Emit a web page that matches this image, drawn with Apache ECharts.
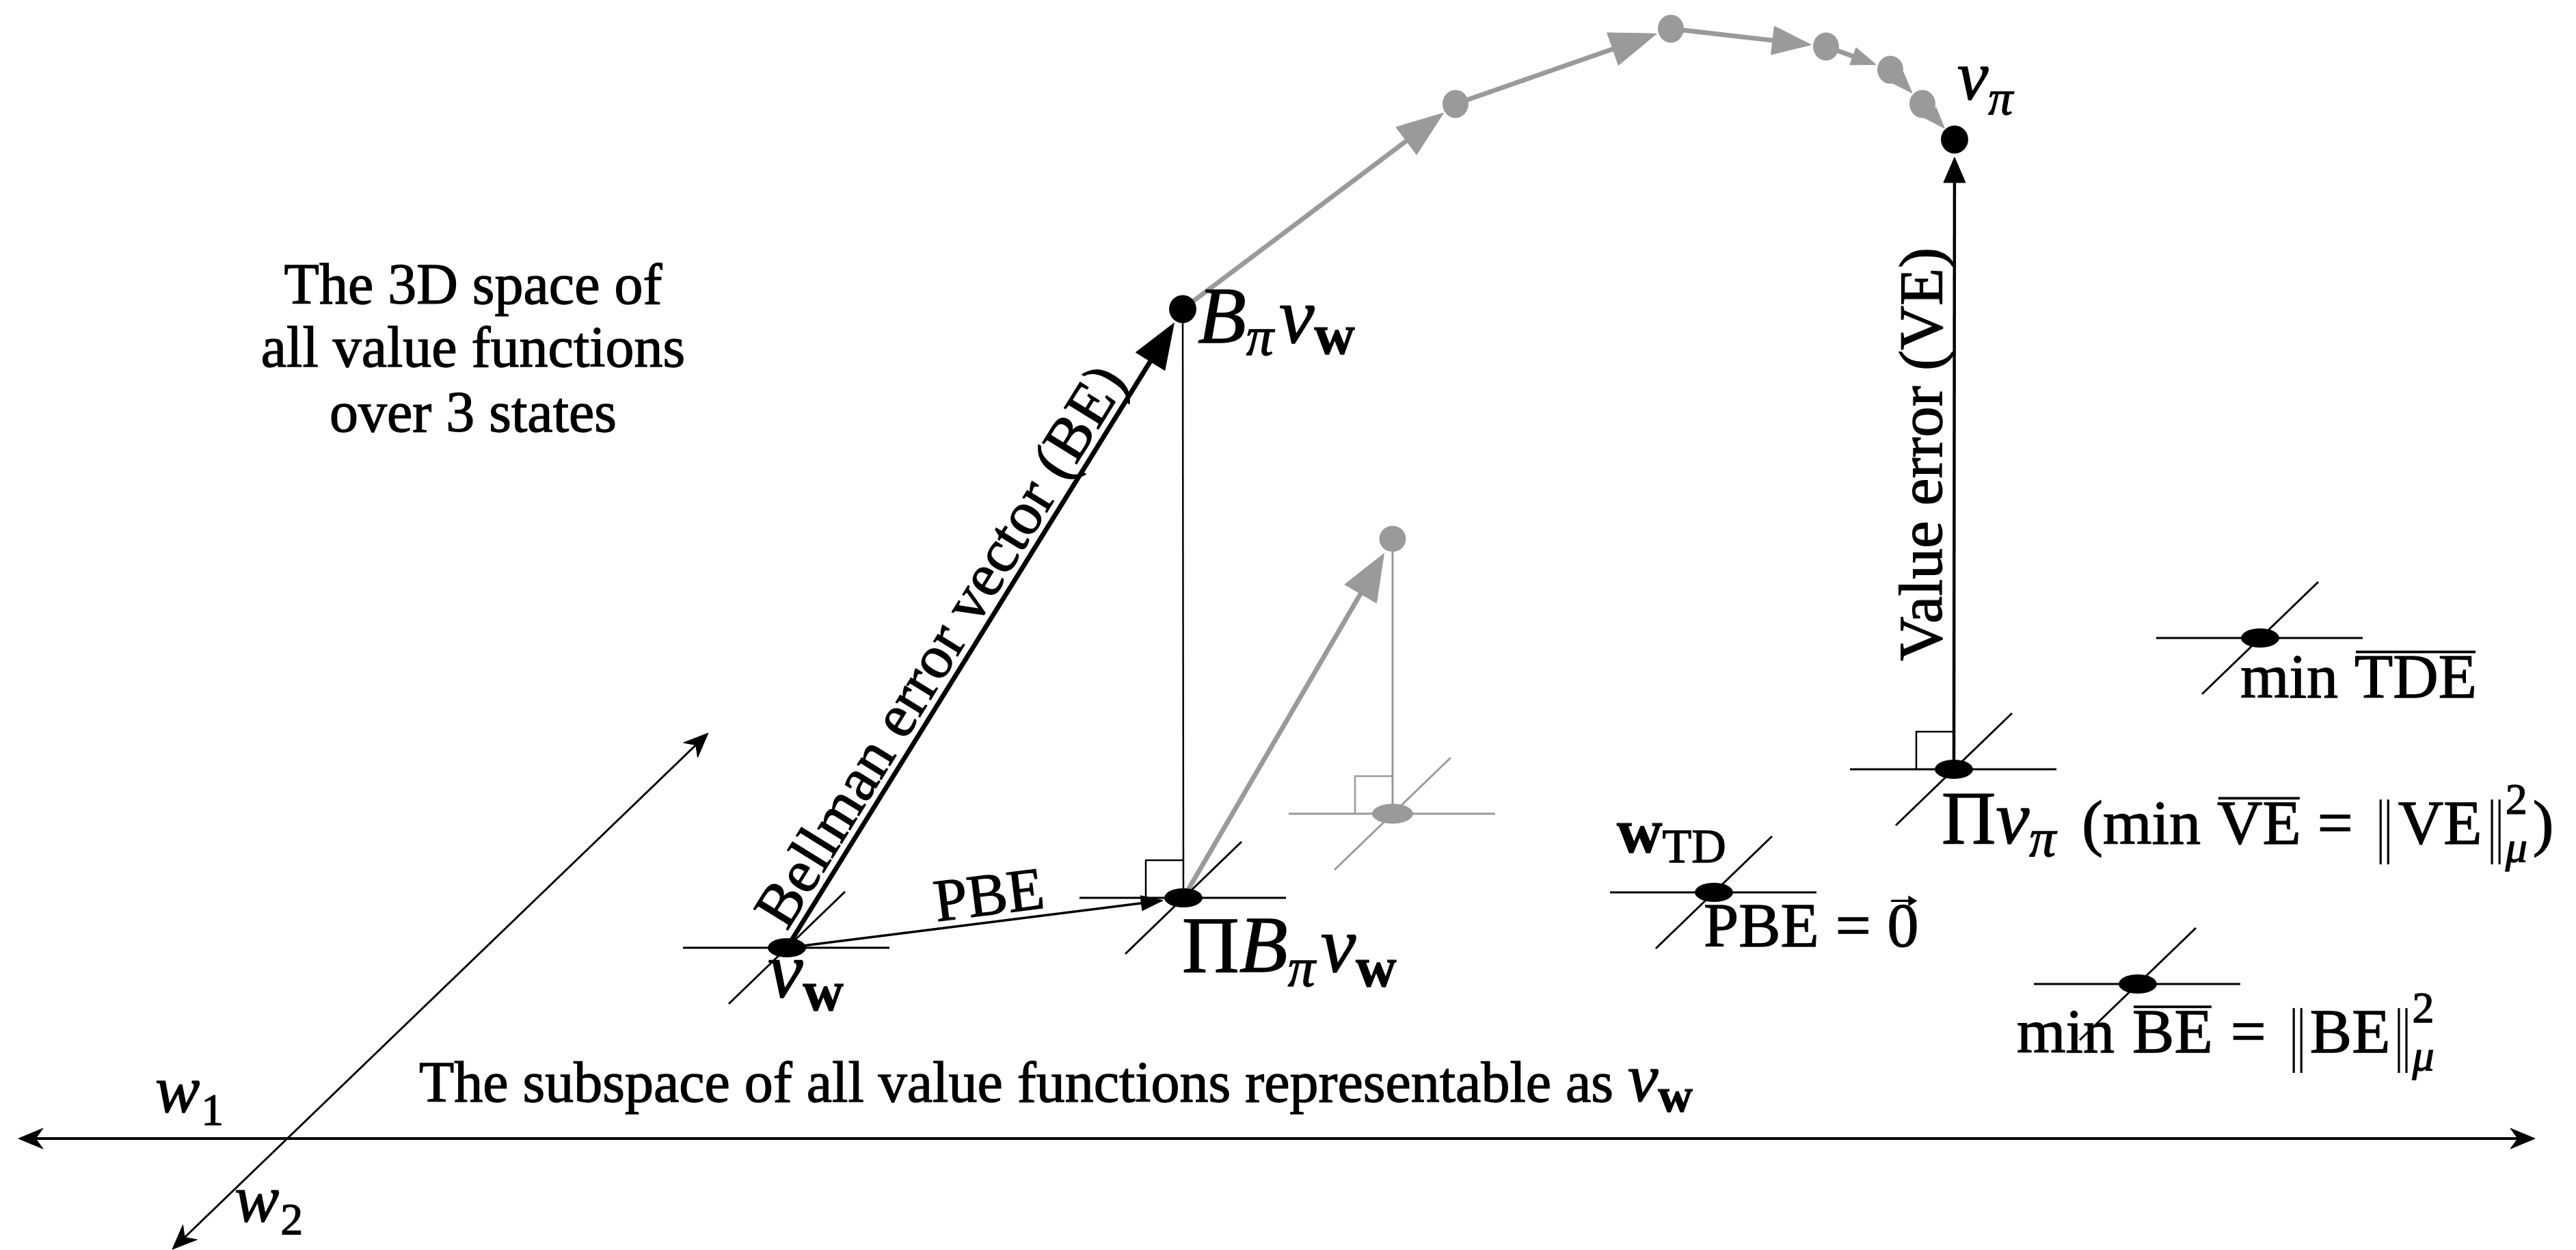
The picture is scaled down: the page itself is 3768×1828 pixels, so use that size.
<!DOCTYPE html>
<html><head><meta charset="utf-8">
<script src="https://cdn.jsdelivr.net/npm/echarts@6/dist/echarts.min.js"></script>
<style>html,body{margin:0;padding:0;background:#fff}#c{width:3768px;height:1828px}</style>
</head><body><div id="c"></div>
<script>
// ================= DATA (diagram units: x to the right, y downward) =================
const diagramWidth = 3768, diagramHeight = 1828;

// the two weight axes of the representable subspace (double-headed arrows) [x1,y1,x2,y2]
const subspaceAxes = [[27, 1665, 3708, 1665], [252, 1827, 1036, 1072]];

// points lying in the subspace (ellipse + cross)  [name, x, y]
const planePoints = [
  ['vw', 1151, 1386], ['PiBvw', 1731, 1313], ['PiVpi', 2858, 1125],
  ['wTD', 2507, 1305], ['minTDE', 3306, 933], ['minBE', 3127, 1439]
];
const ghostPlanePoints = [['ghostProj', 2037, 1190]];
// points outside the subspace (round dots)
const spacePoints = [['Bvw', 1730, 452], ['vpi', 2859, 204]];
// repeated application of the Bellman operator: B v_w -> ... -> v_pi
const bellmanPath = [[1730, 452], [2129, 152], [2444, 42], [2671, 68], [2765, 102], [2812, 152], [2859, 204]];
const ghostSpacePoints = [['ghostB', 2037, 788]];

// arrows between named points [from, to, caption key]
const blackArrows = [['vw', 'Bvw', 'BE'], ['vw', 'PiBvw', 'PBE'], ['PiVpi', 'vpi', 'VE']];
const ghostArrows = [['PiBvw', 'ghostB']];
// projection lines [from, to]
const blackProjections = [['Bvw', 'PiBvw']];
const ghostProjections = [['ghostB', 'ghostProj']];
// right-angle markers at
const rightAngles = ['PiBvw', 'PiVpi'];
const ghostRightAngles = ['ghostProj'];

// texts
const spaceCaption = ['The 3D space of', 'all value functions', 'over 3 states'];
const spaceCaptionAnchor = [[692, 450], [692, 542], [692, 637]];
const subspaceCaption = 'The subspace of all value functions representable as ';
const subspaceCaptionAnchor = [613, 1617];
const axisNames = [['w', '1'], ['w', '2']];
const axisNameAnchors = [[227, 1633], [343, 1793]];
const arrowCaptions = { BE: 'Bellman error vector (BE)', PBE: 'PBE', VE: 'Value error (VE)' };

// ================= STYLE =================
const GRAY = '#9a9a9a', BLACK = '#000';
const FAM = '"Liberation Serif","DejaVu Serif",serif';
const MID = 0.3375;

// label typesetting: [point, dx, dy, runs]; run = [text, style, size, baselineShift, gap, flags]
const pointLabelLayout = [
  ['Bvw', 22, 58, [['B', 'mi', 116], ['π', 'mi', 80, 15], ['v', 'mi', 116, 0, 8], ['w', 'bf', 82, 13]]],
  ['PiBvw', -2, 117, [['Π', 'rm', 116], ['B', 'mi', 116], ['π', 'mi', 80, 18], ['v', 'mi', 116, 0, 8], ['w', 'bf', 82, 18]]],
  ['vw', -28, 81, [['v', 'mi', 116], ['w', 'bf', 82, 16]]],
  ['vpi', 4, -51, [['v', 'mi', 102], ['π', 'mi', 72, 19]]],
  ['PiVpi', -18, 116, [['Π', 'rm', 110], ['v', 'mi', 110], ['π', 'mi', 78, 17], ['(', 'rm', 92, 0, 38], ['min', 'rm', 92],
    ['VE', 'rm', 92, 0, 24, 'over'], ['=', 'rm', 92, 0, 24], ['', 'bar', 92, 0, 36], ['VE', 'rm', 92, 0, 10], ['', 'bar', 92, 0, 10],
    ['2', 'rm', 64, -46, 4], ['μ', 'mi', 64, 24, 0, 'stack'], [')', 'rm', 92, 0, 8]]],
  ['wTD', -142, -52, [['w', 'bf', 92], ['TD', 'rm', 70, 13]]],
  ['wTD', -15, 86, [['PBE', 'rm', 92], ['=', 'rm', 92, 0, 24], ['0', 'rm', 92, 0, 24, 'vec']]],
  ['minTDE', -29, 94, [['min', 'rm', 92], ['TDE', 'rm', 92, 0, 24, 'over']]],
  ['minBE', -177, 107, [['min', 'rm', 92], ['BE', 'rm', 92, 0, 26, 'over'], ['=', 'rm', 92, 0, 26], ['', 'bar', 92, 0, 36],
    ['BE', 'rm', 92, 0, 8], ['', 'bar', 92, 0, 8], ['2', 'rm', 64, -46, 4], ['μ', 'mi', 64, 24, 0, 'stack']]]
];
const arrowStyle = {
  BE: { lw: 7, color: BLACK, kind: 'latex', hl: 66, hw: 50, s1: 24, caption: { t: 0.449, off: 36, size: 90 } },
  PBE: { lw: 3.5, color: BLACK, kind: 'latex', hl: 32, hw: 22, s1: 30, caption: { t: 0.518, off: 34, size: 88 } },
  VE: { lw: 4.5, color: BLACK, kind: 'latex', hl: 37, hw: 32, s1: 26, caption: { t: 0.5, off: 42, size: 90 } }
};
const TEXT_STROKE = 1.3;

const measureCtx = document.createElement('canvas').getContext('2d');
function fontOf(st, size) {
  const pre = st === 'mi' ? 'italic ' : st === 'bf' ? 'bold ' : '';
  return pre + size + 'px ' + FAM;
}
function textWidth(t, font) { measureCtx.font = font; return measureCtx.measureText(t).width; }

function textStyle(t, font, color, align) {
  return { text: t, font: font, fill: color, stroke: color, lineWidth: TEXT_STROKE,
    align: align, verticalAlign: 'middle', textAlign: align, textVerticalAlign: 'middle' };
}
function textEl(t, x, baseline, size, st, color, align) {
  return { type: 'text', x: x, y: baseline - MID * size, style: textStyle(t, fontOf(st, size), color, align || 'left') };
}

function typeset(x, y, runs, color) {
  const els = [];
  let cx = x, lastStart = x;
  runs.forEach(r => {
    const t = r[0], st = r[1], fs = r[2], dy = r[3] || 0, gap = r[4] || 0, flags = r[5] || '';
    const stack = flags.indexOf('stack') >= 0;
    const sx = stack ? lastStart : cx + gap;
    const by = y + dy;
    let w;
    if (st === 'bar') {
      w = 0.22 * fs;
      [0.05, 0.17].forEach(f => els.push({ type: 'line',
        shape: { x1: sx + f * fs, y1: by - 0.78 * fs, x2: sx + f * fs, y2: by + 0.25 * fs }, style: { stroke: color, lineWidth: 3.2 } }));
    } else {
      const font = fontOf(st, fs);
      w = textWidth(t, font);
      els.push(textEl(t, sx, by, fs, st, color));
    }
    if (flags.indexOf('over') >= 0) {
      const oy = by - 0.8 * fs;
      els.push({ type: 'line', shape: { x1: sx + 0.02 * fs, y1: oy, x2: sx + w - 0.02 * fs, y2: oy }, style: { stroke: color, lineWidth: 3.8 } });
    }
    if (flags.indexOf('vec') >= 0) {
      const vy = by - 0.8 * fs, x1 = sx + 0.12 * w, x2 = sx + w * 0.95;
      els.push({ type: 'line', shape: { x1: x1, y1: vy, x2: x2 - 6, y2: vy }, style: { stroke: color, lineWidth: 3.2 } });
      els.push({ type: 'polygon', shape: { points: [[x2, vy], [x2 - 13, vy - 8], [x2 - 13, vy + 8]] }, style: { fill: color } });
    }
    if (stack) cx = Math.max(cx, sx + w); else { lastStart = sx; cx = sx + w; }
  });
  return els;
}

function arrowKids(p0, p1, st) {
  const dx = p1[0] - p0[0], dy = p1[1] - p0[1], L = Math.hypot(dx, dy);
  const ux = dx / L, uy = dy / L;
  const s0 = st.s0 || 0, s1 = st.s1 || 0;
  const a = [p0[0] + ux * s0, p0[1] + uy * s0], b = [p1[0] - ux * s1, p1[1] - uy * s1];
  const kids = [];
  function head(tip, ex, ey) {
    const hl = st.hl, hw = st.hw / 2, px = -ey, py = ex;
    const bx = tip[0] - ex * hl, by = tip[1] - ey * hl;
    const c1 = [bx + px * hw, by + py * hw], c2 = [bx - px * hw, by - py * hw];
    const pts = st.kind === 'stealth'
      ? [tip, c1, [tip[0] - ex * hl * 0.7, tip[1] - ey * hl * 0.7], c2]
      : [tip, c1, c2];
    kids.push({ type: 'polygon', shape: { points: pts }, style: { fill: st.color, stroke: st.color, lineWidth: 1 } });
    return [tip[0] - ex * hl * 0.6, tip[1] - ey * hl * 0.6];
  }
  let la = a, lb = b;
  if (st.endHead !== false) lb = head(b, ux, uy);
  if (st.startHead) la = head(a, -ux, -uy);
  kids.unshift({ type: 'line', shape: { x1: la[0], y1: la[1], x2: lb[0], y2: lb[1] }, style: { stroke: st.color, lineWidth: st.lw } });
  return kids;
}

const allPoints = {};
[planePoints, ghostPlanePoints, spacePoints, ghostSpacePoints].forEach(arr => arr.forEach(p => { allPoints[p[0]] = [p[1], p[2]]; }));

function cross(c, color) {
  return [
    { type: 'line', shape: { x1: c[0] - 152, y1: c[1], x2: c[0] + 150, y2: c[1] }, style: { stroke: color, lineWidth: 3 } },
    { type: 'line', shape: { x1: c[0] - 85, y1: c[1] + 82, x2: c[0] + 85, y2: c[1] - 82 }, style: { stroke: color, lineWidth: 3 } }
  ];
}
function ellipse(c, rx, ry, color) {
  return { type: 'circle', x: c[0], y: c[1], scaleX: 1, scaleY: ry / rx, shape: { cx: 0, cy: 0, r: rx }, style: { fill: color } };
}

function customSeries(data, enc, render, z) {
  return { type: 'custom', coordinateSystem: 'cartesian2d', data: data, encode: enc, renderItem: render,
    z: z, silent: true, clip: false, animation: false };
}
const segEnc = { x: [0, 2], y: [1, 3] }, ptEnc = { x: 0, y: 1 };
function pairData(list) { return list.map(p => allPoints[p[0]].concat(allPoints[p[1]])); }

const series = [];
// subspace axes
series.push(customSeries(subspaceAxes, segEnc, (params, api) => {
  const i = params.dataIndex;
  const p0 = api.coord([api.value(0), api.value(1)]), p1 = api.coord([api.value(2), api.value(3)]);
  return { type: 'group', children: arrowKids(p0, p1, { lw: i === 0 ? 4 : 3, color: BLACK, kind: 'stealth', hl: 36, hw: 30, startHead: true }) };
}, 1));
// crosses at plane points
series.push(customSeries(planePoints.map(p => [p[1], p[2]]), ptEnc, (params, api) => {
  return { type: 'group', children: cross(api.coord([api.value(0), api.value(1)]), BLACK) };
}, 2));
series.push(customSeries(ghostPlanePoints.map(p => [p[1], p[2]]), ptEnc, (params, api) => {
  return { type: 'group', children: cross(api.coord([api.value(0), api.value(1)]), GRAY) };
}, 2));
// projection lines
series.push(customSeries(pairData(blackProjections), segEnc, (params, api) => {
  const p0 = api.coord([api.value(0), api.value(1)]), p1 = api.coord([api.value(2), api.value(3)]);
  return { type: 'line', shape: { x1: p0[0], y1: p0[1], x2: p1[0], y2: p1[1] }, style: { stroke: BLACK, lineWidth: 2.5 } };
}, 2));
series.push(customSeries(pairData(ghostProjections), segEnc, (params, api) => {
  const p0 = api.coord([api.value(0), api.value(1)]), p1 = api.coord([api.value(2), api.value(3)]);
  return { type: 'line', shape: { x1: p0[0], y1: p0[1], x2: p1[0], y2: p1[1] }, style: { stroke: GRAY, lineWidth: 3 } };
}, 2));
// right angle markers
function rightAngleRender(color) {
  return (params, api) => {
    const c = api.coord([api.value(0), api.value(1)]), s = 55;
    return { type: 'polyline', shape: { points: [[c[0] - s, c[1]], [c[0] - s, c[1] - s], [c[0], c[1] - s]] }, style: { stroke: color, lineWidth: 2.5, fill: null } };
  };
}
series.push(customSeries(rightAngles.map(n => allPoints[n]), ptEnc, rightAngleRender(BLACK), 2));
series.push(customSeries(ghostRightAngles.map(n => allPoints[n]), ptEnc, rightAngleRender(GRAY), 2));
// Bellman iteration path (gray)
const pathSegs = bellmanPath.slice(1).map((p, i) => bellmanPath[i].concat(p));
series.push(customSeries(pathSegs, segEnc, (params, api) => {
  const p0 = api.coord([api.value(0), api.value(1)]), p1 = api.coord([api.value(2), api.value(3)]);
  const L = Math.hypot(p1[0] - p0[0], p1[1] - p0[1]);
  const hl = Math.min(68, 20 + 0.16 * L);
  return { type: 'group', children: arrowKids(p0, p1, { lw: 7, color: GRAY, kind: 'latex', hl: hl, hw: hl * 0.74, s1: 22 }) };
}, 3));
// ghost arrow
series.push(customSeries(pairData(ghostArrows), segEnc, (params, api) => {
  const p0 = api.coord([api.value(0), api.value(1)]), p1 = api.coord([api.value(2), api.value(3)]);
  return { type: 'group', children: arrowKids(p0, p1, { lw: 7, color: GRAY, kind: 'latex', hl: 68, hw: 54, s1: 25 }) };
}, 3));
// black arrows with captions
series.push(customSeries(pairData(blackArrows), segEnc, (params, api) => {
  const key = blackArrows[params.dataIndex][2], st = arrowStyle[key];
  const p0 = api.coord([api.value(0), api.value(1)]), p1 = api.coord([api.value(2), api.value(3)]);
  const kids = arrowKids(p0, p1, st);
  const dx = p1[0] - p0[0], dy = p1[1] - p0[1], L = Math.hypot(dx, dy), ux = dx / L, uy = dy / L;
  const cp = st.caption;
  const cx = p0[0] + ux * L * cp.t + uy * cp.off, cy = p0[1] + uy * L * cp.t - ux * cp.off;
  kids.push({ type: 'text', x: cx, y: cy, rotation: Math.atan2(-uy, ux),
    style: textStyle(arrowCaptions[key], fontOf('rm', cp.size), BLACK, 'center') });
  return { type: 'group', children: kids };
}, 4));
// dots
series.push(customSeries(planePoints.map(p => [p[1], p[2]]), ptEnc, (params, api) => ellipse(api.coord([api.value(0), api.value(1)]), 28, 14, BLACK), 6));
series.push(customSeries(ghostPlanePoints.map(p => [p[1], p[2]]), ptEnc, (params, api) => ellipse(api.coord([api.value(0), api.value(1)]), 30, 14.5, GRAY), 6));
series.push(customSeries(bellmanPath.slice(1, -1), ptEnc, (params, api) => ellipse(api.coord([api.value(0), api.value(1)]), 19, 20.5, GRAY), 6));
series.push(customSeries(ghostSpacePoints.map(p => [p[1], p[2]]), ptEnc, (params, api) => ellipse(api.coord([api.value(0), api.value(1)]), 19.5, 19, GRAY), 6));
series.push(customSeries(spacePoints.map(p => [p[1], p[2]]), ptEnc, (params, api) => ellipse(api.coord([api.value(0), api.value(1)]), 20, 20.5, BLACK), 6));
// point labels
series.push(customSeries(pointLabelLayout.map(l => allPoints[l[0]]), ptEnc, (params, api) => {
  const l = pointLabelLayout[params.dataIndex];
  const c = api.coord([api.value(0), api.value(1)]);
  return { type: 'group', children: typeset(c[0] + l[1], c[1] + l[2], l[3], BLACK) };
}, 8));
// captions
series.push(customSeries(spaceCaptionAnchor, ptEnc, (params, api) => {
  const c = api.coord([api.value(0), api.value(1)]);
  return textEl(spaceCaption[params.dataIndex], c[0], c[1], 84, 'rm', BLACK, 'center');
}, 8));
series.push(customSeries([subspaceCaptionAnchor], ptEnc, (params, api) => {
  const c = api.coord([api.value(0), api.value(1)]);
  return { type: 'group', children: typeset(c[0], c[1], [[subspaceCaption, 'rm', 84], ['v', 'mi', 100], ['w', 'bf', 70, 14]], BLACK) };
}, 8));
series.push(customSeries(axisNameAnchors, ptEnc, (params, api) => {
  const c = api.coord([api.value(0), api.value(1)]);
  const n = axisNames[params.dataIndex];
  return { type: 'group', children: typeset(c[0], c[1], [[n[0], 'mi', 98], [n[1], 'rm', 66, 17, 2]], BLACK) };
}, 8));

const chart = echarts.init(document.getElementById('c'), null, { renderer: 'canvas' });
chart.setOption({
  animation: false,
  backgroundColor: '#fff',
  grid: { left: 0, right: 0, top: 0, bottom: 0 },
  xAxis: { type: 'value', min: 0, max: diagramWidth, show: false },
  yAxis: { type: 'value', min: 0, max: diagramHeight, inverse: true, show: false },
  series: series
});
</script>
</body></html>
